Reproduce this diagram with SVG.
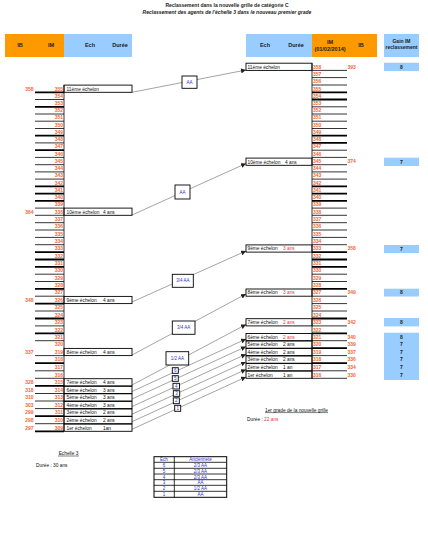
<svg xmlns="http://www.w3.org/2000/svg" width="428" height="553" viewBox="0 0 428 553">
<defs>
<style>
text{font-family:"Liberation Sans",Arial,sans-serif;}
.t{font-size:5px;font-weight:bold;fill:#222;}
.ti{font-size:5px;font-weight:bold;font-style:italic;fill:#222;}
.h{font-size:5.5px;font-weight:bold;fill:#222;}
.v{font-size:5px;font-weight:bold;fill:#F2683A;}
.e{font-size:4.8px;fill:#111;}
.r{fill:#E8334A;}
.g{font-size:5px;font-weight:bold;fill:#222;text-anchor:middle;}
.lb{font-size:4.5px;fill:#3333CC;text-anchor:middle;}
.box{fill:#fff;stroke:#000;stroke-width:0.9;}
.node{fill:none;stroke:#000;stroke-width:0.9;}
.thin{stroke:#000;stroke-width:0.8;fill:none;}
.thick{stroke:#000;stroke-width:1.8;fill:none;}
.con{stroke:#666;stroke-width:0.6;fill:none;marker-end:url(#arr);}
.gain{fill:#99CCFF;}
</style>
<marker id="arr" viewBox="0 0 6 6" refX="6" refY="3" markerWidth="5" markerHeight="5" orient="auto" markerUnits="userSpaceOnUse">
<path d="M0,0 L6,3 L0,6 z" fill="#222"/>
</marker>
</defs>
<rect width="428" height="553" fill="#fff"/>

<g id="title">
<text class="t" x="227" y="7" text-anchor="middle">Reclassement dans la nouvelle grille de catégorie C</text>
<text class="ti" x="227" y="14" text-anchor="middle">Reclassement des agents de l'échelle 3 dans le nouveau premier grade</text>
</g>

<g id="header">
<rect x="5" y="34" width="59" height="23" fill="#FF9900"/>
<rect x="64" y="34" width="68" height="23" fill="#99CCFF"/>
<rect x="246" y="34" width="66" height="23" fill="#99CCFF"/>
<rect x="312" y="34" width="65" height="23" fill="#FF9900"/>
<rect x="384" y="34" width="35" height="23" fill="#99CCFF"/>
<text class="h" x="20" y="47" text-anchor="middle">IB</text>
<text class="h" x="51" y="47" text-anchor="middle">IM</text>
<text class="h" x="90" y="47" text-anchor="middle">Ech</text>
<text class="h" x="120" y="47" text-anchor="middle">Durée</text>
<text class="h" x="265" y="47" text-anchor="middle">Ech</text>
<text class="h" x="296" y="47" text-anchor="middle">Durée</text>
<text class="h" x="330" y="44" text-anchor="middle">IM</text>
<text class="h" x="330" y="51" text-anchor="middle">(01/02/2014)</text>
<text class="h" x="361" y="47" text-anchor="middle">IB</text>
<text class="g" x="401.5" y="43" font-size="4.5">Gain IM</text>
<text class="g" x="401.5" y="49" font-size="4.5">reclassement</text>
</g>

<g id="left-grid">
<path class="thin" d="M64,85.1V431.3"/>
<path class="thin" d="M35,99.5H64M35,114H64M35,121.2H64M35,128.5H64M35,142.9H64M35,157.4H64M35,164.7H64M35,171.9H64M35,179.1H64M35,208.1H64M35,222.7H64M35,230H64M35,237.4H64M35,244.7H64M35,274.2H64M35,281.5H64M35,296.2H64M35,311H64M35,325.9H64M35,340.7H64M35,355.6H64M35,370.8H64M35,378.3H64M35,393.5H64M35,401H64M35,408.6H64M35,423.7H64M35,215.3H64"/>
<path class="thick" d="M35,92.3H64M35,106.8H64M35,135.7H64M35,150.2H64M35,186.4H64M35,193.6H64M35,200.8H64M35,252.1H64M35,259.5H64M35,266.8H64M35,288.9H64M35,303.6H64M35,318.5H64M35,333.3H64M35,363.2H64M35,385.9H64M35,416.2H64M35,431.3H64"/>
<g class="v" text-anchor="end">
<text x="63" y="90.5">355</text><text x="63" y="97.7">354</text><text x="63" y="105">353</text><text x="63" y="112.2">352</text><text x="63" y="119.4">351</text><text x="63" y="126.7">350</text><text x="63" y="133.9">349</text><text x="63" y="141.1">348</text><text x="63" y="148.4">347</text><text x="63" y="155.6">346</text><text x="63" y="162.9">345</text><text x="63" y="170.1">344</text><text x="63" y="177.3">343</text><text x="63" y="184.6">342</text><text x="63" y="191.8">341</text><text x="63" y="199">340</text><text x="63" y="206.3">339</text><text x="63" y="213.5">338</text><text x="63" y="220.9">337</text><text x="63" y="228.2">336</text><text x="63" y="235.6">335</text><text x="63" y="242.9">334</text><text x="63" y="250.3">333</text><text x="63" y="257.7">332</text><text x="63" y="265">331</text><text x="63" y="272.4">330</text><text x="63" y="279.7">329</text><text x="63" y="287.1">328</text><text x="63" y="294.4">327</text><text x="63" y="301.8">326</text><text x="63" y="309.2">325</text><text x="63" y="316.7">324</text><text x="63" y="324.1">323</text><text x="63" y="331.5">322</text><text x="63" y="338.9">321</text><text x="63" y="346.4">320</text><text x="63" y="353.8">319</text><text x="63" y="361.4">318</text><text x="63" y="369">317</text><text x="63" y="376.5">316</text><text x="63" y="384.1">315</text><text x="63" y="391.7">314</text><text x="63" y="399.2">313</text><text x="63" y="406.8">312</text><text x="63" y="414.4">311</text><text x="63" y="421.9">310</text><text x="63" y="429.5">309</text>
<text x="33.5" y="90.5">358</text><text x="33.5" y="213.5">364</text><text x="33.5" y="301.8">348</text><text x="33.5" y="353.8">337</text><text x="33.5" y="384.1">328</text><text x="33.5" y="391.7">318</text><text x="33.5" y="399.2">310</text><text x="33.5" y="406.8">303</text><text x="33.5" y="414.4">299</text><text x="33.5" y="421.9">298</text><text x="33.5" y="429.5">297</text>
</g>
</g>

<g id="right-grid">
<path class="thin" d="M312,63.2V378.6"/>
<path class="thin" d="M312,70.4H347M312,77.6H347M312,85H347M312,106.8H347M312,114H347M312,121.2H347M312,128.5H347M312,150.2H347M312,157.4H347M312,164.7H347M312,171.9H347M312,179.1H347M312,208.1H347M312,215.3H347M312,222.7H347M312,230H347M312,237.4H347M312,244.7H347M312,274.2H347M312,281.5H347M312,296.2H347M312,303.6H347M312,311H347M312,325.9H347M312,340.7H347M312,355.6H347M312,370.8H347M312,378.3H347"/>
<path class="thick" d="M312,92.3H347M312,99.5H347M312,135.7H347M312,142.9H347M312,186.4H347M312,193.6H347M312,200.8H347M312,252.1H347M312,259.5H347M312,266.8H347M312,288.9H347M312,318.5H347M312,333.3H347M312,348.2H347M312,363.2H347"/>
<g class="v">
<text x="313" y="68.6">358</text><text x="313" y="75.8">357</text><text x="313" y="83.2">356</text><text x="313" y="90.5">355</text><text x="313" y="97.7">354</text><text x="313" y="105">353</text><text x="313" y="112.2">352</text><text x="313" y="119.4">351</text><text x="313" y="126.7">350</text><text x="313" y="133.9">349</text><text x="313" y="141.1">348</text><text x="313" y="148.4">347</text><text x="313" y="155.6">346</text><text x="313" y="162.9">345</text><text x="313" y="170.1">344</text><text x="313" y="177.3">343</text><text x="313" y="184.6">342</text><text x="313" y="191.8">341</text><text x="313" y="199">340</text><text x="313" y="206.3">339</text><text x="313" y="213.5">338</text><text x="313" y="220.9">337</text><text x="313" y="228.2">336</text><text x="313" y="235.6">335</text><text x="313" y="242.9">334</text><text x="313" y="250.3">333</text><text x="313" y="257.7">332</text><text x="313" y="265">331</text><text x="313" y="272.4">330</text><text x="313" y="279.7">329</text><text x="313" y="287.1">328</text><text x="313" y="294.4">327</text><text x="313" y="301.8">326</text><text x="313" y="309.2">325</text><text x="313" y="316.7">324</text><text x="313" y="324.1">323</text><text x="313" y="331.5">322</text><text x="313" y="338.9">321</text><text x="313" y="346.4">320</text><text x="313" y="353.8">319</text><text x="313" y="361.4">318</text><text x="313" y="369">317</text><text x="313" y="376.5">316</text>
<text x="347.5" y="68.6">393</text><text x="347.5" y="162.9">374</text><text x="347.5" y="250.3">358</text><text x="347.5" y="294.4">349</text><text x="347.5" y="324.1">342</text><text x="347.5" y="338.9">340</text><text x="347.5" y="346.4">339</text><text x="347.5" y="353.8">337</text><text x="347.5" y="361.4">336</text><text x="347.5" y="369">334</text><text x="347.5" y="376.5">330</text>
</g>
</g>

<g id="gain">
<rect class="gain" x="384" y="62.7" width="35" height="8.3"/>
<rect class="gain" x="384" y="157.7" width="35" height="8.3"/>
<rect class="gain" x="384" y="245" width="35" height="8"/>
<rect class="gain" x="384" y="288.7" width="35" height="7.8"/>
<rect class="gain" x="384" y="318" width="35" height="8.4"/>
<rect class="gain" x="384" y="332.7" width="35" height="47.3"/>
<text class="g" x="401.5" y="68.6">8</text>
<text class="g" x="401.5" y="163.6">7</text>
<text class="g" x="401.5" y="250.8">7</text>
<text class="g" x="401.5" y="294.4">8</text>
<text class="g" x="401.5" y="324.1">8</text>
<text class="g" x="401.5" y="338.9">8</text>
<text class="g" x="401.5" y="346.4">7</text>
<text class="g" x="401.5" y="353.8">7</text>
<text class="g" x="401.5" y="361.4">7</text>
<text class="g" x="401.5" y="369">7</text>
<text class="g" x="401.5" y="376.5">7</text>
</g>

<g id="connectors">
<line class="con" x1="132" y1="92.3" x2="246" y2="70"/>
<line class="con" x1="132" y1="215" x2="246" y2="163.5"/>
<line class="con" x1="132" y1="302" x2="246" y2="251"/>
<line class="con" x1="132" y1="355" x2="246" y2="294"/>
<line class="con" x1="132" y1="385" x2="246" y2="324.5"/>
<line class="con" x1="132" y1="391.5" x2="246" y2="339"/>
<line class="con" x1="132" y1="399" x2="246" y2="346.6"/>
<line class="con" x1="132" y1="406.6" x2="246" y2="354.2"/>
<line class="con" x1="132" y1="414.2" x2="246" y2="361.8"/>
<line class="con" x1="132" y1="421.7" x2="246" y2="369.4"/>
<line class="con" x1="132" y1="429.3" x2="246" y2="377"/>
</g>

<g id="left-nodes">
<g id="L11"><rect class="node" x="64" y="85.1" width="68" height="7.2"/><text class="e" x="66.5" y="90.5">11ème échelon</text></g>
<g id="L10"><rect class="node" x="64" y="208.1" width="68" height="7.2"/><text class="e" x="66.5" y="213.5">10ème échelon</text><text class="e" x="103" y="213.5">4 ans</text></g>
<g id="L9"><rect class="node" x="64" y="296.4" width="68" height="7.2"/><text class="e" x="66.5" y="301.8">9ème échelon</text><text class="e" x="103" y="301.8">4 ans</text></g>
<g id="L8"><rect class="node" x="64" y="348.4" width="68" height="7.2"/><text class="e" x="66.5" y="353.8">8ème échelon</text><text class="e" x="103" y="353.8">4 ans</text></g>
<g id="L7"><rect class="node" x="64" y="378.7" width="68" height="7.2"/><text class="e" x="66.5" y="384.1">7ème échelon</text><text class="e" x="103" y="384.1">4 ans</text></g>
<g id="L6"><rect class="node" x="64" y="386.3" width="68" height="7.2"/><text class="e" x="66.5" y="391.7">6ème échelon</text><text class="e" x="103" y="391.7">3 ans</text></g>
<g id="L5"><rect class="node" x="64" y="393.8" width="68" height="7.2"/><text class="e" x="66.5" y="399.2">5ème échelon</text><text class="e" x="103" y="399.2">3 ans</text></g>
<g id="L4"><rect class="node" x="64" y="401.4" width="68" height="7.2"/><text class="e" x="66.5" y="406.8">4ème échelon</text><text class="e" x="103" y="406.8">3 ans</text></g>
<g id="L3"><rect class="node" x="64" y="409" width="68" height="7.2"/><text class="e" x="66.5" y="414.4">3ème échelon</text><text class="e" x="103" y="414.4">2 ans</text></g>
<g id="L2"><rect class="node" x="64" y="416.5" width="68" height="7.2"/><text class="e" x="66.5" y="421.9">2ème échelon</text><text class="e" x="103" y="421.9">2 ans</text></g>
<g id="L1"><rect class="node" x="64" y="424.1" width="68" height="7.2"/><text class="e" x="66.5" y="429.5">1er échelon</text><text class="e" x="103" y="429.5">1an</text></g>
</g>

<g id="right-nodes">
<g id="R11"><rect class="node" x="246" y="63.2" width="66" height="7.2"/><text class="e" x="247.5" y="68.6">11ème échelon</text></g>
<g id="R10"><rect class="node" x="246" y="158.1" width="66" height="7.2"/><text class="e" x="247.5" y="163.5">10ème échelon</text><text class="e" x="285" y="163.5">4 ans</text></g>
<g id="R9"><rect class="node" x="246" y="244.9" width="66" height="7.2"/><text class="e" x="247.5" y="250.3">9ème échelon</text><text class="e r" x="283" y="250.3">3 ans</text></g>
<g id="R8"><rect class="node" x="246" y="289" width="66" height="7.2"/><text class="e" x="247.5" y="294.4">8ème échelon</text><text class="e r" x="283" y="294.4">3 ans</text></g>
<g id="R7"><rect class="node" x="246" y="318.7" width="66" height="7.2"/><text class="e" x="247.5" y="324.1">7ème échelon</text><text class="e r" x="283" y="324.1">2 ans</text></g>
<g id="R6"><rect class="node" x="246" y="333.5" width="66" height="7.2"/><text class="e" x="247.5" y="338.9">6ème échelon</text><text class="e r" x="283" y="338.9">2 ans</text></g>
<g id="R5"><rect class="node" x="246" y="341" width="66" height="7.2"/><text class="e" x="247.5" y="346.4">5ème échelon</text><text class="e" x="283" y="346.4">2 ans</text></g>
<g id="R4"><rect class="node" x="246" y="348.4" width="66" height="7.2"/><text class="e" x="247.5" y="353.8">4ème échelon</text><text class="e" x="283" y="353.8">2 ans</text></g>
<g id="R3"><rect class="node" x="246" y="356" width="66" height="7.2"/><text class="e" x="247.5" y="361.4">3ème échelon</text><text class="e" x="283" y="361.4">2 ans</text></g>
<g id="R2"><rect class="node" x="246" y="363.6" width="66" height="7.2"/><text class="e" x="247.5" y="369">2ème échelon</text><text class="e" x="283" y="369">1 an</text></g>
<g id="R1"><rect class="node" x="246" y="371.1" width="66" height="7.2"/><text class="e" x="247.5" y="376.5">1er échelon</text><text class="e" x="283" y="376.5">1 an</text></g>
</g>

<g id="labels">
<g id="A1"><rect class="box" x="182" y="76" width="15" height="12.3"/><text class="lb" x="189.5" y="83.6">AA</text></g>
<g id="A2"><rect class="box" x="175" y="185" width="15" height="14"/><text class="lb" x="182.5" y="193.6">AA</text></g>
<g id="A3"><rect class="box" x="172.3" y="274.3" width="21" height="13"/><text class="lb" x="182.8" y="282.4">3/4 AA</text></g>
<g id="A4"><rect class="box" x="172.3" y="321" width="22.7" height="13.3"/><text class="lb" x="183.6" y="329.2">3/4 AA</text></g>
<g id="A5"><rect class="box" x="166" y="351.7" width="22.7" height="13.3"/><text class="lb" x="177.3" y="359.9">1/2 AA</text></g>
<g id="A6"><rect class="box" x="172.3" y="367.7" width="6" height="5.6"/><text class="lb" x="175.3" y="372">6</text></g>
<g id="A7"><rect class="box" x="172.3" y="375.7" width="6" height="5.6"/><text class="lb" x="175.3" y="380">5</text></g>
<g id="A8"><rect class="box" x="173" y="383.3" width="6.5" height="5.7"/><text class="lb" x="176.2" y="387.7">4</text></g>
<g id="A9"><rect class="box" x="173.3" y="390.7" width="6.4" height="5.6"/><text class="lb" x="176.5" y="395">3</text></g>
<g id="A10"><rect class="box" x="173.3" y="397.8" width="6" height="5.9"/><text class="lb" x="176.3" y="402.2">2</text></g>
<g id="A11"><rect class="box" x="174.7" y="405.3" width="6" height="6"/><text class="lb" x="177.7" y="409.8">1</text></g>
</g>

<g id="notes">
<text class="e" x="296.5" y="411.5" text-anchor="middle">1er grade de la nouvelle grille</text>
<line x1="265" y1="412.6" x2="328" y2="412.6" stroke="#000" stroke-width="0.5"/>
<text class="e" x="247" y="420.5">Durée : <tspan class="r">22 ans</tspan></text>
<text class="e" x="68.5" y="455" text-anchor="middle">Echelle 3</text>
<line x1="58" y1="456" x2="79" y2="456" stroke="#000" stroke-width="0.5"/>
<text class="e" x="36" y="466.5">Durée : 30 ans</text>
</g>

<g id="table">
<rect x="154" y="456.7" width="72.7" height="40.6" fill="none" stroke="#000" stroke-width="1"/>
<path d="M174.3,456.7V497.3M154,462.3H226.7M154,468.3H226.7M154,474H226.7M154,479.7H226.7M154,485.3H226.7M154,491.3H226.7" stroke="#000" stroke-width="0.8" fill="none"/>
<g class="lb">
<text x="164" y="461.3">Ech</text><text x="200.5" y="461.3">Ancienneté</text>
<text x="164" y="467">6</text><text x="200.5" y="467">2/3 AA</text>
<text x="164" y="472.8">5</text><text x="200.5" y="472.8">2/3 AA</text>
<text x="164" y="478.5">4</text><text x="200.5" y="478.5">2/3 AA</text>
<text x="164" y="484.2">3</text><text x="200.5" y="484.2">AA</text>
<text x="164" y="490">2</text><text x="200.5" y="490">1/2 AA</text>
<text x="164" y="496">1</text><text x="200.5" y="496">AA</text>
</g>
</g>
</svg>
